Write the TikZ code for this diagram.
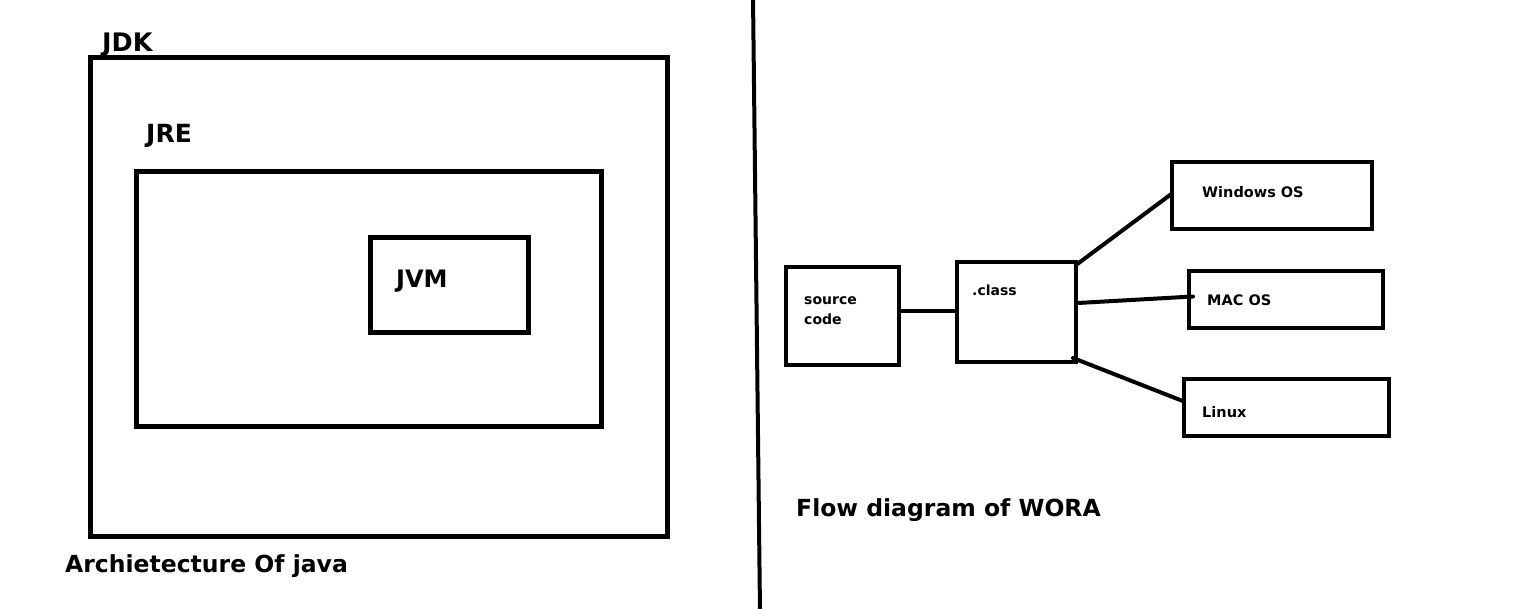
\documentclass[tikz,border=0pt]{standalone}
\usepackage{fontspec}
\setmainfont{DejaVu Sans}
\begin{document}
\begin{tikzpicture}[x=1pt,y=-1pt,
  box/.style={draw=black,line width=5pt,rectangle,inner sep=0pt,outer sep=0pt,fill=none},
  sbox/.style={draw=black,line width=4pt,rectangle,inner sep=0pt,outer sep=0pt},
  big/.style={font=\fontsize{23.5}{26}\selectfont\bfseries,inner sep=0pt,anchor=base west},
  small/.style={font=\fontsize{14.5}{19}\selectfont\bfseries,inner sep=0pt,anchor=base west,align=left},
  conn/.style={line width=4pt,line cap=round}]
\useasboundingbox[fill=white] (0,0) rectangle (1533,609);
% left: architecture
\node[box,minimum width=577pt,minimum height=478pt] (jdk) at (378.5,297) {};
\node[box,minimum width=465pt,minimum height=254pt] (jre) at (368.5,299) {};
\node[box,minimum width=158pt,minimum height=95pt] (jvm) at (449,285.5) {};
\node[big,font=\fontsize{25.5}{28}\selectfont\bfseries] (tjdk) at (102,52) {JDK};
\node[big,font=\fontsize{25}{28}\selectfont\bfseries] (tjre) at (146,143) {JRE};
\node[big,font=\fontsize{24}{28}\selectfont\bfseries] (tjvm) at (396,288) {JVM};
\node[big] (tarch) at (65,572) {Archietecture Of java};
% divider
\coordinate (d1) at (753,-3);
\coordinate (d2) at (760,612);
\draw[line width=4pt] (d1) -- (d2);
% right: flow diagram
\node[sbox,minimum width=113pt,minimum height=98pt] (src) at (842.5,316) {};
\node[sbox,minimum width=119pt,minimum height=100pt] (cls) at (1016.5,312) {};
\node[sbox,minimum width=200pt,minimum height=67pt] (win) at (1272,195.5) {};
\node[sbox,minimum width=194pt,minimum height=57pt] (mac) at (1286,299.5) {};
\node[sbox,minimum width=205pt,minimum height=57pt] (lin) at (1286.5,407.5) {};
\node[small,font=\fontsize{14}{19.5}\selectfont\bfseries] (tsrc) at (804,324) {source\\code};
\node[small,font=\fontsize{14}{19}\selectfont\bfseries] (tcls) at (972,296) {.class};
\node[small] (twin) at (1202,198) {Windows OS};
\node[small] (tmac) at (1207,306) {MAC OS};
\node[small] (tlin) at (1202,417) {Linux};
\node[big] (tflow) at (796,516) {Flow diagram of WORA};
% connectors
\draw[conn] ([yshift=5pt]src.east) -- ([yshift=1pt]cls.west);
\draw[conn] ([yshift=-3pt]cls.north east) -- ([yshift=2pt]win.west);
\draw[conn] ([xshift=2pt,yshift=9pt]cls.east) -- ([xshift=4pt,yshift=3pt]mac.west);
\draw[conn] ([xshift=-3pt,yshift=4pt]cls.south east) -- ([yshift=6pt]lin.west);
\end{tikzpicture}
\end{document}
